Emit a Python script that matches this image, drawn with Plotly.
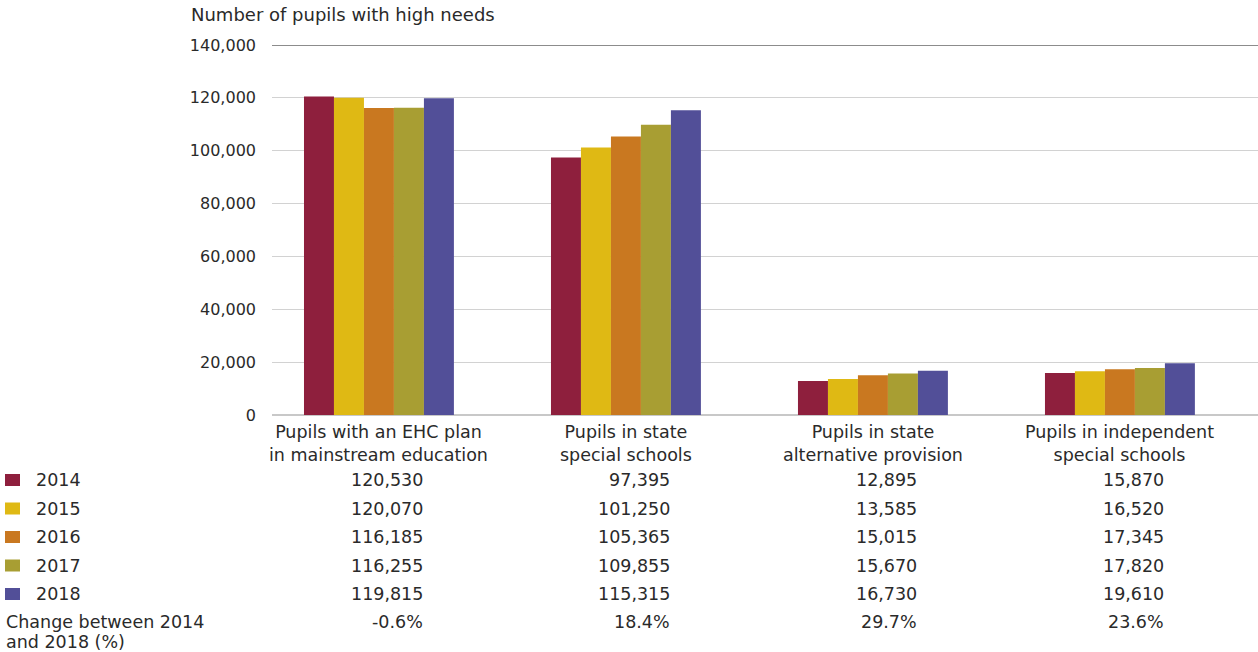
import plotly.graph_objects as go

categories = ["Pupils with an EHC plan<br>in mainstream education",
              "Pupils in state<br>special schools",
              "Pupils in state<br>alternative provision",
              "Pupils in independent<br>special schools"]
years = ["2014", "2015", "2016", "2017", "2018"]
values = {
    "2014": [120530, 97395, 12895, 15870],
    "2015": [120070, 101250, 13585, 16520],
    "2016": [116185, 105365, 15015, 17345],
    "2017": [116255, 109855, 15670, 17820],
    "2018": [119815, 115315, 16730, 19610],
}
change_pct = ["-0.6%", "18.4%", "29.7%", "23.6%"]
change_label = ["Change between 2014", "and 2018 (%)"]
colors = ["#8E1F3D", "#DFB914", "#C97820", "#A89E33", "#524F98"]
y_ticks = [0, 20000, 40000, 60000, 80000, 100000, 120000, 140000]

W, H = 1258, 652
L, R, T, B = 272, 0, 45, 237
PW, PH = W - L - R, H - T - B
FONT = "DejaVu Sans"
TXT = "#2a2a2a"
TEXT_SIZE = 17.5
NUM_SIZE = 17.5

def px(xp):  # pixel -> paper x
    return (xp - L) / PW

def py(yp):  # pixel -> paper y
    return (H - B - yp) / PH

xs = list(range(len(categories)))
fig = go.Figure()
for yr, c in zip(years, colors):
    fig.add_trace(go.Bar(x=xs, y=values[yr], name=yr, marker=dict(color=c, line=dict(width=0))))

ann = []
shapes = []
# category labels
for i, cat in enumerate(categories):
    ann.append(dict(x=i, xref="x", y=py(443), yref="paper", text=cat, showarrow=False,
                    xanchor="center", yanchor="middle", align="center",
                    font=dict(family=FONT, size=TEXT_SIZE, color=TXT)))
# table rows
row_y = [480, 508.5, 537, 565.5, 594]
for r, (yr, c) in enumerate(zip(years, colors)):
    shapes.append(dict(type="rect", xref="paper", yref="paper",
                       x0=px(5), x1=px(20), y0=py(row_y[r] - 6), y1=py(row_y[r] + 6),
                       fillcolor=c, line=dict(width=0)))
    ann.append(dict(x=px(34), xref="paper", y=py(row_y[r]), yref="paper", text=yr,
                    showarrow=False, xanchor="left", yanchor="middle",
                    font=dict(family=FONT, size=NUM_SIZE, color=TXT)))
    for i in xs:
        ann.append(dict(x=i + 46 / 247, xref="x", y=py(row_y[r]), yref="paper",
                        text=f"{values[yr][i]:,}", showarrow=False, xanchor="right",
                        yanchor="middle", font=dict(family=FONT, size=NUM_SIZE, color=TXT)))
for k, (line, yl) in enumerate(zip(change_label, [622, 642])):
    ann.append(dict(x=px(4), xref="paper", y=py(yl), yref="paper",
                    text=line, showarrow=False, xanchor="left", yanchor="middle",
                    font=dict(family=FONT, size=TEXT_SIZE, color=TXT)))
for i in xs:
    ann.append(dict(x=i + 46 / 247, xref="x", y=py(622), yref="paper", text=change_pct[i],
                    showarrow=False, xanchor="right", yanchor="middle",
                    font=dict(family=FONT, size=NUM_SIZE, color=TXT)))
# title
ann.append(dict(x=px(189), xref="paper", y=py(15), yref="paper",
                text="Number of pupils with high needs", showarrow=False,
                xanchor="left", yanchor="middle", font=dict(family=FONT, size=18, color=TXT)))
# top dark gridline
shapes.append(dict(type="line", xref="paper", yref="y", x0=0, x1=1, y0=140000, y1=140000,
                   line=dict(color="#1a1a1a", width=1)))

fig.update_layout(
    width=W, height=H,
    margin=dict(l=L, r=R, t=T, b=B, pad=0),
    paper_bgcolor="white", plot_bgcolor="white",
    barmode="group", bargap=0.393, bargroupgap=0,
    showlegend=False,
    annotations=ann, shapes=shapes,
    xaxis=dict(range=[-0.433, 3.559], showticklabels=False, showgrid=False,
               zeroline=False, showline=False, ticks=""),
    yaxis=dict(range=[0, 140000], tickvals=y_ticks, tickformat=",d",
               showgrid=True, gridcolor="#d2d2d2", gridwidth=1,
               zeroline=True, zerolinecolor="#c8c8c8", zerolinewidth=1.5,
               showline=False, ticks="", ticklabelstandoff=15,
               tickfont=dict(family=FONT, size=16, color=TXT)),
)
fig.write_html("out.html")
